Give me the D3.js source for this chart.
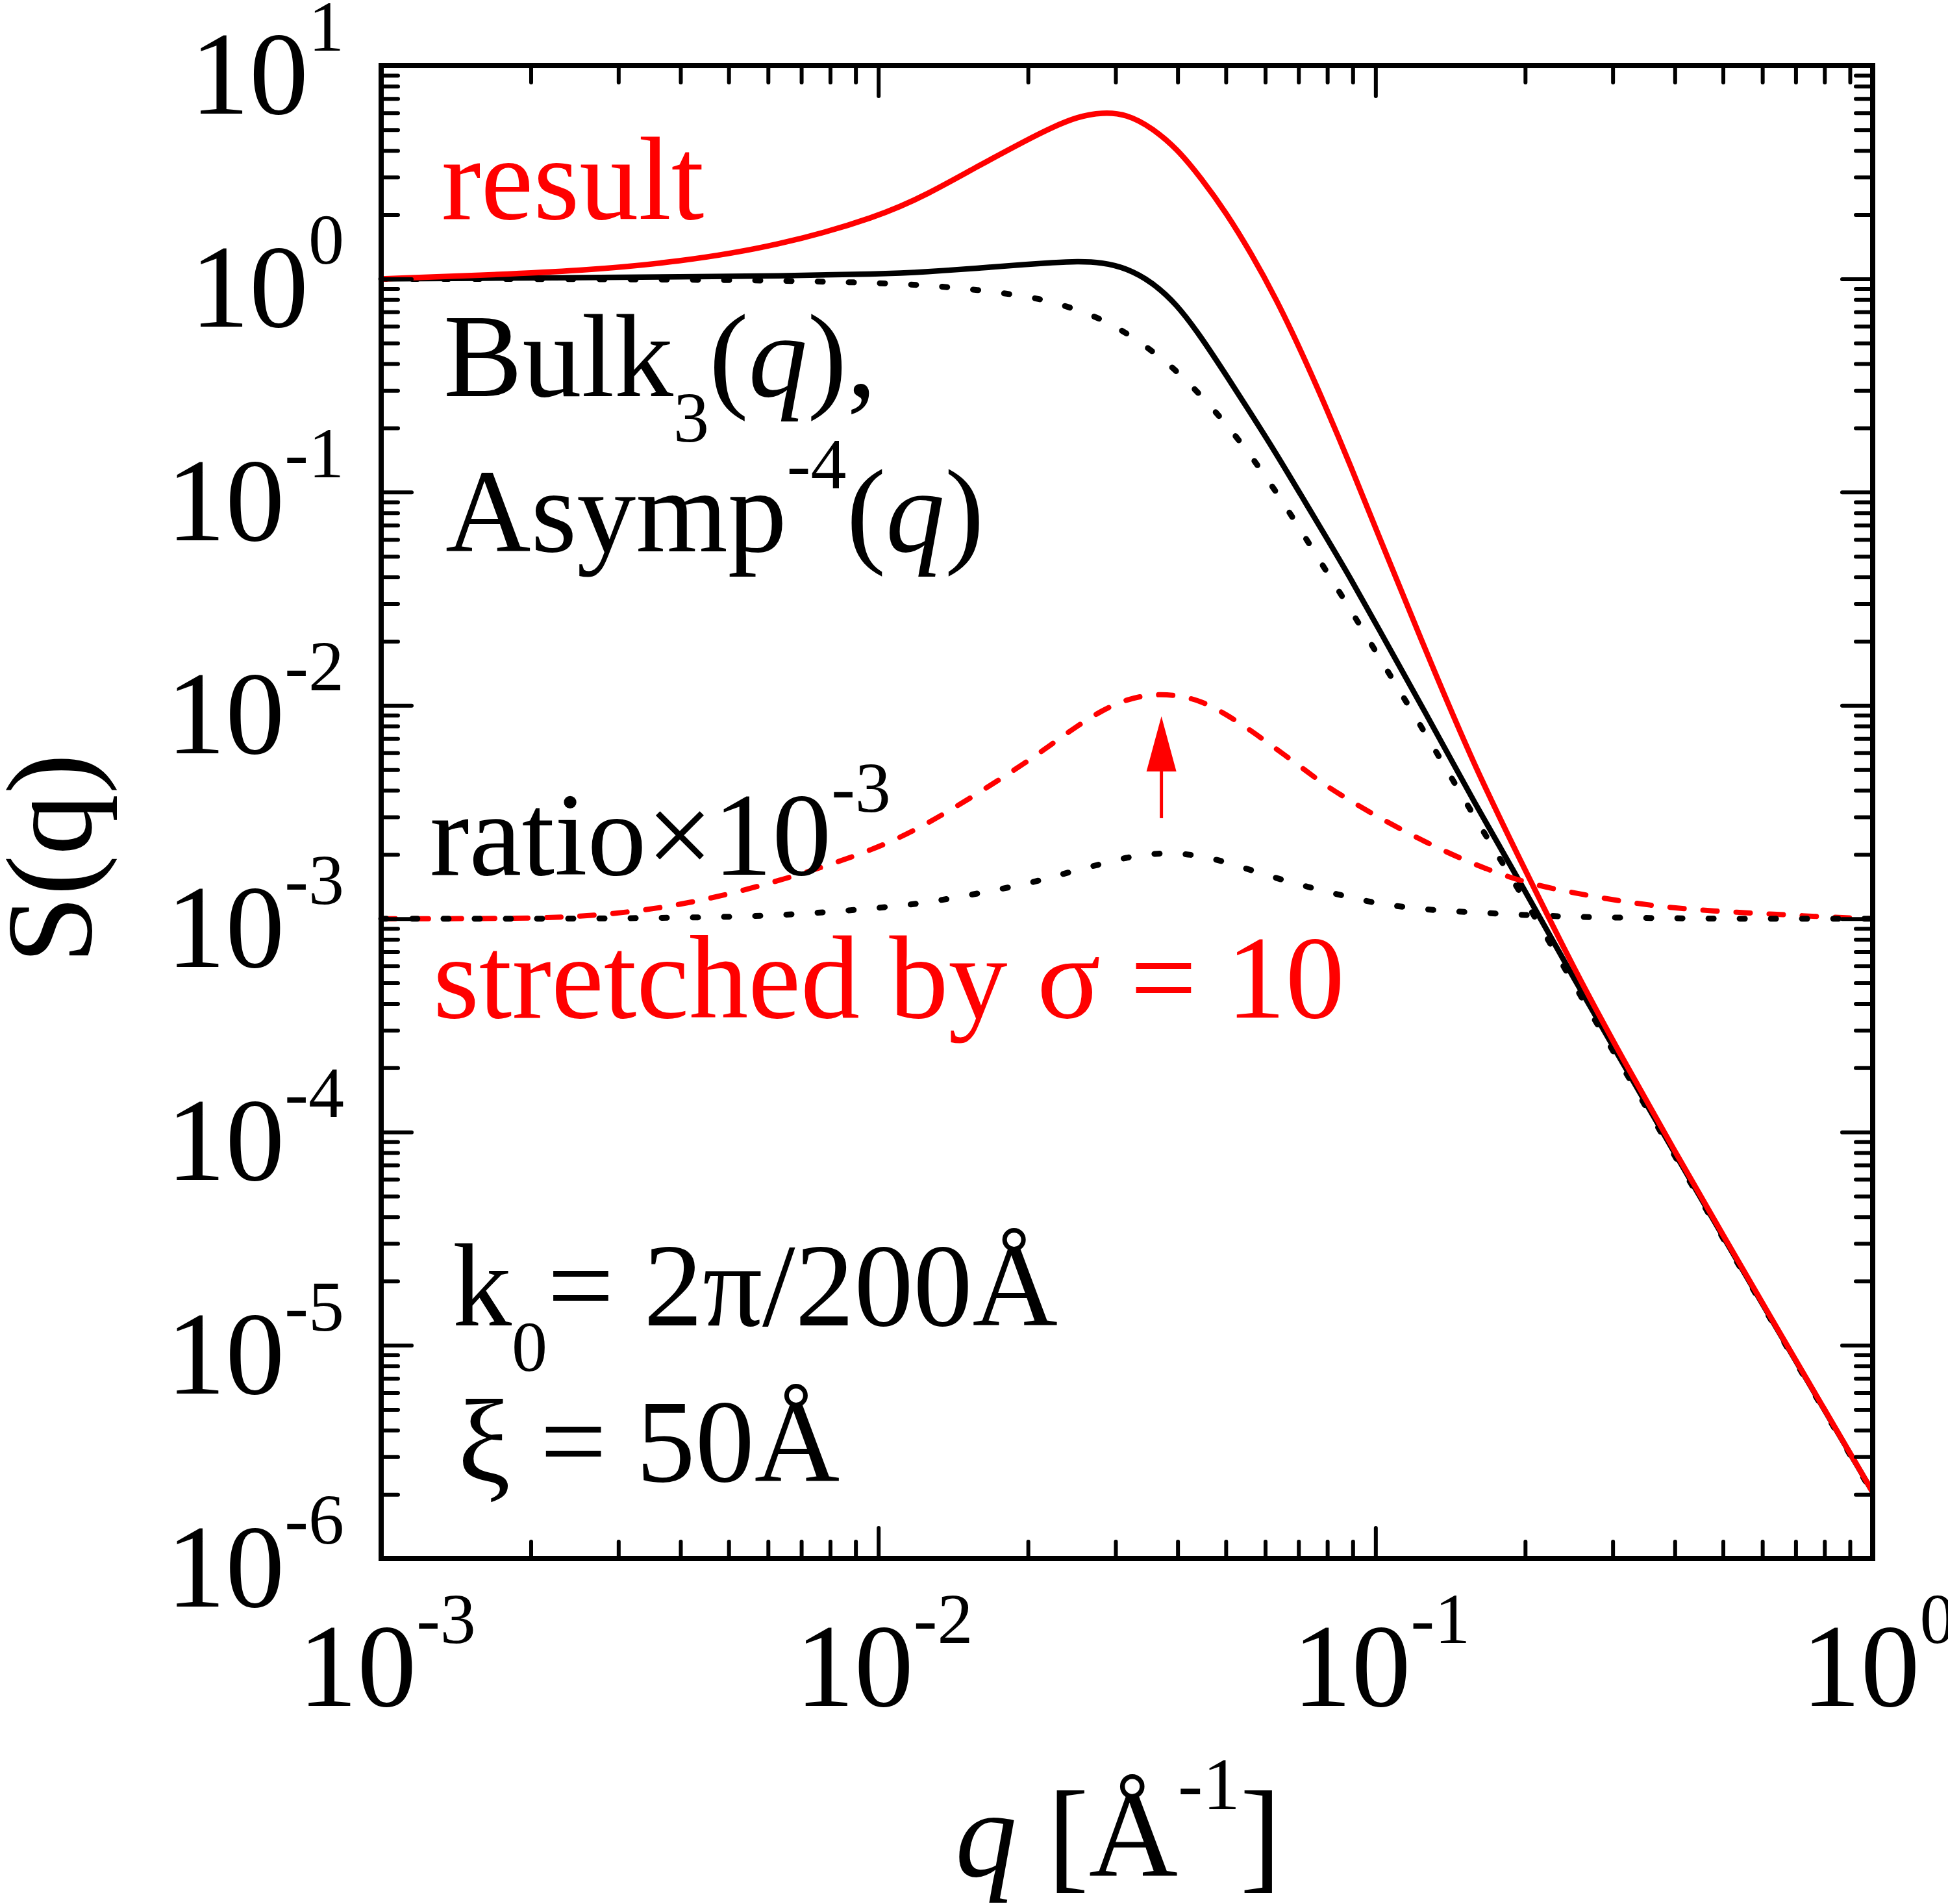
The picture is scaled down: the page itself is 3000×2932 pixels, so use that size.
<!DOCTYPE html>
<html>
<head>
<meta charset="utf-8">
<script src="https://cdn.jsdelivr.net/npm/d3@7"></script>
<style>
  html, body { margin: 0; padding: 0; background: #fff; }
  svg { display: block; }
  text { font-family: "Liberation Serif", "Times New Roman", serif; }
</style>
</head>
<body>
<svg id="chart" width="3000" height="2932"></svg>
<script>
// q grid [1/Å] shared by every curve
const qValues = [0.001, 0.00158, 0.00251, 0.00398, 0.00631, 0.01, 0.0126, 0.0158, 0.02, 0.0224,
    0.0251, 0.0282, 0.0316, 0.0355, 0.0398, 0.0447, 0.0501, 0.0562, 0.0631, 0.0708,
    0.0794, 0.0891, 0.1, 0.126, 0.158, 0.2, 0.251, 0.316, 0.398, 0.501,
    0.631, 0.794, 1.0];

// result (red, solid)
const resultS = [1.00, 1.04, 1.09, 1.20, 1.43, 1.95, 2.50, 3.36, 4.51, 5.14,
    5.75, 6.04, 5.92, 5.11, 4.10, 2.95, 2.04, 1.32, 0.807, 0.461,
    0.252, 0.133, 0.0679, 0.0182, 5.19e-3, 1.69e-3, 5.78e-4, 2.15e-4, 8.28e-5, 3.26e-5,
    1.29e-5, 5.15e-6, 2.05e-6];

// Bulk_3(q) (black, solid)
const bulkS = [1.00, 1.007, 1.014, 1.021, 1.032, 1.053, 1.080, 1.122, 1.170, 1.191,
    1.208, 1.195, 1.122, 0.968, 0.763, 0.530, 0.353, 0.233, 0.152, 0.0970,
    0.0620, 0.0394, 0.0243, 9.28e-3, 3.50e-3, 1.35e-3, 5.20e-4, 2.06e-4, 8.11e-5, 3.21e-5,
    1.28e-5, 5.12e-6, 2.05e-6];

// Asymp^-4(q) (black, dotted)
const asympS = [1.0, 0.999, 0.998, 0.992, 0.982, 0.958, 0.932, 0.890, 0.827, 0.779,
    0.717, 0.645, 0.557, 0.461, 0.371, 0.282, 0.2086, 0.148, 0.1006, 0.0661,
    0.0431, 0.0281, 0.01795, 7.41e-3, 3.00e-3, 1.224e-3, 4.89e-4, 1.965e-4, 7.89e-5, 3.15e-5,
    1.265e-5, 5.05e-6, 2.02e-6];

// ratio x 10^-3 (black, dotted)
const ratioS = [1.0e-3, 1.0e-3, 1.0e-3, 1.01e-3, 1.03e-3, 1.12e-3, 1.19e-3, 1.31e-3, 1.46e-3, 1.57e-3,
    1.69e-3, 1.81e-3, 1.94e-3, 2.02e-3, 2.03e-3, 1.97e-3, 1.84e-3, 1.69e-3, 1.55e-3, 1.44e-3,
    1.34e-3, 1.26e-3, 1.18e-3, 1.10e-3, 1.07e-3, 1.04e-3, 1.02e-3, 1.01e-3, 1.005e-3, 1.0e-3,
    1.0e-3, 1.0e-3, 1.0e-3];

// ratio stretched by sigma = 10 (red, dashed)
const stretchS = [1.0e-3, 1.0e-3, 1.01e-3, 1.14e-3, 1.49e-3, 2.13e-3, 2.80e-3, 3.84e-3, 5.48e-3, 6.62e-3,
    8.0e-3, 9.5e-3, 1.07e-2, 1.13e-2, 1.12e-2, 1.05e-2, 9.08e-3, 7.62e-3, 6.26e-3, 5.15e-3,
    4.20e-3, 3.57e-3, 3.04e-3, 2.28e-3, 1.79e-3, 1.47e-3, 1.32e-3, 1.20e-3, 1.12e-3, 1.08e-3,
    1.05e-3, 1.02e-3, 1.0e-3];

// axis decades and minor multipliers
const xTickExps = [-3, -2, -1, 0];
const yTickExps = [1, 0, -1, -2, -3, -4, -5, -6];
const minorMults = [2, 3, 4, 5, 6, 7, 8, 9];

// arrow annotation (q, from S, to S)
const arrowQ = 0.0371;
const arrowFrom = 2.96e-3;
const arrowTo = 8.9e-3;

let width = 3000, height = 2932;
let margin = { left: 587, right: 116, top: 101, bottom: 532 };
let plotW = width - margin.left - margin.right;
let plotH = height - margin.top - margin.bottom;

let fontSize = 182, smallSize = 110;

let svg = d3.select('#chart');
svg.append('rect').attr('width', width).attr('height', height).attr('fill', '#fff');

let x = d3.scaleLog().domain([1e-3, 1]).range([margin.left, margin.left + plotW]);
let y = d3.scaleLog().domain([1e-6, 10]).range([margin.top + plotH, margin.top]);

// curves
let line = d3.line()
    .x((d) => x(d[0]))
    .y((d) => y(d[1]))
    .curve(d3.curveBasis);

function series(values) {
    return qValues.map((q, i) => [q, values[i]]);
}

let curves = [
    { values: asympS, color: '#000000', dash: '8,40', width: 9 },
    { values: bulkS, color: '#000000', dash: null, width: 8.5 },
    { values: stretchS, color: '#ff0000', dash: '22,29', width: 8 },
    { values: ratioS, color: '#000000', dash: '8,40', width: 9 },
    { values: resultS, color: '#ff0000', dash: null, width: 8.5 }
];

svg.append('g')
    .selectAll('path')
    .data(curves)
    .join('path')
    .attr('d', (c) => line(series(c.values)))
    .attr('fill', 'none')
    .attr('stroke', (c) => c.color)
    .attr('stroke-width', (c) => c.width)
    .attr('stroke-dasharray', (c) => c.dash)
    .attr('stroke-linecap', (c) => c.dash ? 'round' : 'butt');

// arrow
let ax = x(arrowQ), tipY = y(arrowTo), headLen = 85, headHalf = 23;
svg.append('line')
    .attr('x1', ax).attr('x2', ax)
    .attr('y1', y(arrowFrom)).attr('y2', tipY + headLen - 5)
    .attr('stroke', '#ff0000').attr('stroke-width', 5);
svg.append('path')
    .attr('d', 'M ' + ax + ' ' + tipY + ' L ' + (ax - headHalf) + ' ' + (tipY + headLen) +
        ' L ' + (ax + headHalf) + ' ' + (tipY + headLen) + ' Z')
    .attr('fill', '#ff0000');

// ticks on all four sides, pointing inward
let majorX = xTickExps.map((e) => Math.pow(10, e));
let majorY = yTickExps.map((e) => Math.pow(10, e));
let minorX = [], minorY = [];
xTickExps.slice(0, -1).forEach((e) => minorMults.forEach((m) => minorX.push(m * Math.pow(10, e))));
yTickExps.slice(1).forEach((e) => minorMults.forEach((m) => minorY.push(m * Math.pow(10, e))));

function drawTicks(axisFn, scale, transform, values, size) {
    let g = svg.append('g')
        .attr('transform', transform)
        .call(axisFn(scale).tickValues(values).tickSize(-size).tickSizeOuter(0).tickFormat(''));
    g.select('.domain').remove();
    g.selectAll('.tick line')
        .attr('stroke', '#000')
        .attr('stroke-width', 6)
        .attr('stroke-linecap', 'round');
}

let bottomY = margin.top + plotH, rightX = margin.left + plotW;
[[minorX, 26], [majorX, 47]].forEach(([vals, size]) => {
    drawTicks(d3.axisBottom, x, 'translate(0,' + bottomY + ')', vals, size);
    drawTicks(d3.axisTop, x, 'translate(0,' + margin.top + ')', vals, size);
});
[[minorY, 26], [majorY, 47]].forEach(([vals, size]) => {
    drawTicks(d3.axisLeft, y, 'translate(' + margin.left + ',0)', vals, size);
    drawTicks(d3.axisRight, y, 'translate(' + rightX + ',0)', vals, size);
});

// frame
svg.append('rect')
    .attr('x', margin.left).attr('y', margin.top)
    .attr('width', plotW).attr('height', plotH)
    .attr('fill', 'none').attr('stroke', '#000').attr('stroke-width', 8);

// text with superscripts / subscripts / italics
function richText(xPos, yPos, parts, opt) {
    opt = opt || {};
    let size = opt.size || fontSize,
        small = opt.small || smallSize,
        raise = opt.raise || 97,
        drop = opt.drop || 70;
    let t = svg.append('text')
        .attr('x', xPos).attr('y', yPos)
        .attr('font-size', size)
        .attr('fill', opt.fill || '#000')
        .attr('text-anchor', opt.anchor || 'start');
    let shift = 0;
    parts.forEach((p) => {
        let target = p.sup ? -raise : (p.sub ? drop : 0);
        t.append('tspan')
            .attr('dy', target - shift)
            .attr('font-size', (p.sup || p.sub) ? small : null)
            .attr('font-style', p.it ? 'italic' : null)
            .text(p.t);
        shift = target;
    });
    return t;
}

// tick labels
yTickExps.forEach((e) => {
    richText(530, y(Math.pow(10, e)) + 74, [{ t: '10' }, { t: String(e), sup: true }], { anchor: 'end' });
});
xTickExps.forEach((e) => {
    richText(x(Math.pow(10, e)) + 9, 2627, [{ t: '10' }, { t: String(e), sup: true }], { anchor: 'middle' });
});

// axis titles
svg.append('text')
    .attr('transform', 'translate(140,1322) rotate(-90)')
    .attr('text-anchor', 'middle')
    .attr('font-size', 188)
    .text('S(q)');
richText(1722, 2889, [{ t: 'q', it: true }, { t: ' [Å' }, { t: '-1', sup: true }, { t: ']' }],
    { anchor: 'middle', size: 190, small: 115, raise: 103 });

// annotations
richText(680, 337, [{ t: 'result' }], { fill: '#ff0000' });
richText(683, 610, [{ t: 'Bulk' }, { t: '3', sub: true }, { t: '(' }, { t: 'q', it: true }, { t: '),' }]);
richText(686, 849, [{ t: 'Asymp' }, { t: '-4', sup: true }, { t: '(' }, { t: 'q', it: true }, { t: ')' }]);
richText(662, 1347, [{ t: 'ratio×10' }, { t: '-3', sup: true }]);
richText(667, 1567, [{ t: 'stretched by σ = 10' }], { fill: '#ff0000' });
richText(697, 2041, [{ t: 'k' }, { t: '0', sub: true }, { t: '= 2π/200Å' }]);
richText(705, 2281, [{ t: 'ξ = 50Å' }]);
</script>
</body>
</html>
